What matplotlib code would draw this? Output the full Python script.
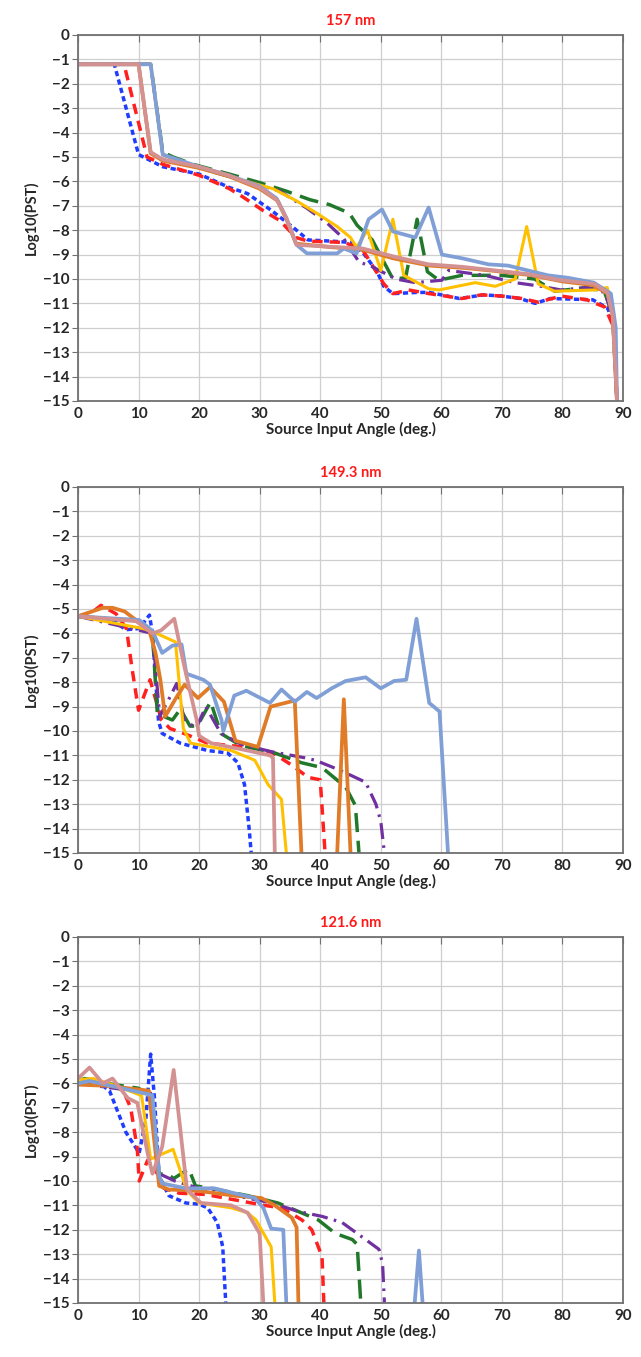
import numpy as np
import matplotlib
matplotlib.use("Agg")
import matplotlib.pyplot as plt

plt.rcParams['font.family'] = ['Lato', 'DejaVu Sans']

nan = np.nan

# ---- 157 nm : (angle, log10 PST) ----
blue_157 = [(0, -1.2), (6, -1.2), (10, -4.9), (14, -5.4), (20, -5.7), (25, -6.25), (28, -6.5),
            (32, -7.2), (35.6, -7.9), (38, -8.4), (42, -8.45), (45, -8.5), (47, -8.9), (49.4, -9.7),
            (50.5, -10.3), (52, -10.6), (56, -10.55), (58, -10.55), (63, -10.8), (67, -10.65),
            (70, -10.7), (73, -10.8), (75.5, -11.0), (78, -10.8), (85, -10.85), (87.5, -11.2),
            (88.5, -12), (89, -15)]
red_157 = [(0, -1.2), (7.6, -1.2), (11.4, -5.0), (14, -5.3), (20, -5.75), (25, -6.3), (27, -6.6),
           (30.6, -7.2), (33.3, -7.6), (36, -8.3), (38, -8.45), (44, -8.5), (47, -8.8), (49, -9.6),
           (50.5, -10.2), (52, -10.6), (54.6, -10.45), (58, -10.6), (63.4, -10.8), (66.6, -10.65),
           (70, -10.7), (73.3, -10.8), (76, -10.95), (79.8, -10.7), (84, -10.85), (87, -11.15),
           (88.5, -12), (89, -15)]
green_157 = [(0, -1.2), (12, -1.2), (14, -4.8), (15.7, -5.0), (19, -5.3), (25, -5.7), (30, -6.05),
             (34.4, -6.4), (38.3, -6.75), (41.5, -6.95), (44.8, -7.3), (46.1, -7.8), (48.6, -8.4),
             (52, -10.0), (54.1, -9.95), (56, -7.55), (57.7, -9.7), (59.6, -10.05), (63.4, -9.85),
             (70, -9.85), (75.4, -10.0), (78.7, -10.5), (84, -10.35), (86.9, -10.5), (88.3, -11.5),
             (89, -15)]
purple_157 = [(0, -1.2), (12, -1.2), (14, -4.9), (20, -5.45), (25, -5.8), (30, -6.15), (33.3, -6.4),
              (37.8, -7.1), (41.1, -7.7), (43.9, -8.35), (46.4, -9.3), (48.6, -9.5), (52.5, -10.0),
              (55.7, -10.15), (60.1, -10.05), (61.2, -9.65), (67.2, -9.85), (72.2, -10.15),
              (76.5, -10.3), (79.8, -10.45), (84, -10.35), (87, -10.55), (88.3, -11.5), (89, -15)]
yellow_157 = [(0, -1.2), (12, -1.2), (14, -4.9), (20, -5.45), (25, -5.8), (30, -6.15), (32.2, -6.3),
              (36.1, -6.8), (39.4, -7.3), (42.8, -7.85), (45, -8.3), (46, -8.7), (47.8, -8.0),
              (50, -9.65), (52, -7.55), (53.8, -9.85), (57.9, -10.4), (59.6, -10.45), (65.6, -10.15),
              (68.9, -10.3), (72.2, -10.0), (74.1, -7.85), (76, -10.2), (78.7, -10.5), (85.2, -10.45),
              (87.4, -10.35), (88.5, -11.5), (89, -15)]
orange_157 = [(0, -1.2), (10, -1.2), (12, -4.85), (14, -5.15), (20, -5.45), (25, -5.8), (30, -6.3),
              (33, -6.8), (34.5, -7.6), (36, -8.55), (42, -8.7), (47, -8.8), (52, -9.15), (58, -9.45),
              (64, -9.55), (70, -9.7), (75, -9.85), (80, -10.1), (85, -10.25), (87.5, -10.6),
              (88.3, -11.5), (89, -15)]
ltblue_157 = [(0, -1.2), (12, -1.2), (14, -4.9), (20, -5.4), (25, -5.76), (30, -6.2), (32.8, -6.7),
              (34.4, -7.5), (36.1, -8.6), (37.8, -8.95), (42.8, -8.95), (43.9, -8.75), (46, -8.95),
              (48, -7.55), (50.2, -7.15), (52, -8.05), (55.7, -8.3), (57.9, -7.07), (60.1, -9.0),
              (63.4, -9.15), (67.8, -9.4), (71, -9.45), (74.3, -9.65), (77.6, -9.85), (80.9, -9.95),
              (85.2, -10.15), (88, -10.6), (88.8, -12), (89, -15)]
pink_157 = [(0, -1.2), (10, -1.2), (12, -4.8), (14, -5.1), (20, -5.4), (25, -5.76), (30, -6.25),
            (32.8, -6.75), (34.4, -7.5), (36.1, -8.6), (41.7, -8.68), (47, -8.75), (52.5, -9.1),
            (57.9, -9.4), (63.4, -9.5), (68.9, -9.65), (74.3, -9.8), (79.8, -10.05), (85.2, -10.2),
            (87.4, -10.55), (88.3, -11.5), (89, -15)]

# ---- 149.3 nm ----
blue_149 = [(0, -5.3), (5.7, -5.45), (7.9, -5.85), (10.1, -5.8), (11.8, -5.25), (12.3, -6.0),
            (13.3, -9.6), (13.9, -10.1), (16.9, -10.5), (21.4, -10.8), (24.7, -10.9), (26.4, -11.3),
            (27.5, -12.2), (28.3, -14.1), (28.6, -15)]
red_149 = [(0, -5.3), (2.5, -5.1), (3.8, -4.85), (6.3, -5.2), (8, -5.8), (8.9, -7.4), (10, -9.15),
           (11.9, -7.9), (13.8, -9.55), (15.2, -9.9), (17.5, -10.1), (21.4, -10.5), (25.3, -10.6),
           (29.7, -10.7), (32.2, -10.9), (35.3, -11.4), (38, -11.9), (40, -12.0), (40.8, -15)]
green_149 = [(0, -5.3), (10, -5.5), (12.3, -6.0), (13.1, -9.3), (15.6, -9.55), (16.9, -9.1),
             (18.5, -9.8), (19.7, -9.8), (21.9, -8.8), (23.6, -10.1), (26.9, -10.6), (32.5, -10.9),
             (36.9, -11.3), (40.3, -11.5), (44.2, -12.3), (45.8, -13.05), (46.4, -15)]
purple_149 = [(0, -5.3), (12.3, -6.0), (13.5, -9.4), (15.2, -8.6), (16.3, -8.05), (17.5, -9.5),
              (19.5, -9.9), (21.1, -9.0), (23.6, -10.1), (27, -10.55), (32, -10.85), (37.5, -11.1),
              (39.2, -11.2), (43.2, -11.6), (47.5, -12.1), (49.2, -13.0), (50, -13.7), (50.6, -15)]
yellow_149 = [(0, -5.3), (10.7, -5.8), (12.5, -5.95), (16.1, -6.35), (17.4, -9.9), (18.6, -10.5),
              (25.3, -10.8), (29.2, -11.2), (31.4, -12.2), (33.6, -12.8), (34.4, -15)]
orange_149 = [(0, -5.3), (4.1, -4.95), (5.7, -4.95), (7.7, -5.1), (10.1, -5.55), (11.8, -5.9),
              (12.8, -6.8), (13.6, -7.9), (14.4, -9.4), (16.3, -8.6), (17.6, -8.1), (19.8, -8.65),
              (21.8, -8.2), (24.1, -8.8), (26, -10.4), (29.7, -10.65), (31.8, -9.0), (35.8, -8.75),
              (36.9, -15), (nan, nan), (42.8, -15), (43.9, -8.7), (45, -15)]
ltblue_149 = [(0, -5.3), (10.1, -5.45), (12.3, -5.9), (13.9, -6.8), (15.6, -6.5), (17.1, -6.45),
              (17.9, -7.65), (20.7, -7.9), (21.8, -8.1), (23.7, -9.55), (24, -10.0), (25.8, -8.55),
              (27.8, -8.35), (31.7, -8.85), (33.6, -8.3), (35.8, -8.8), (37.8, -8.4), (39.4, -8.65),
              (41.9, -8.25), (44.2, -7.95), (47.5, -7.8), (50, -8.25), (52.2, -7.95), (54.2, -7.9),
              (55.9, -5.4), (58, -8.85), (59.7, -9.2), (61.1, -15)]
pink_149 = [(0, -5.3), (9.6, -5.5), (12.3, -6.0), (13.7, -5.88), (15.9, -5.4), (17.6, -7.4),
            (19.6, -9.55), (20, -10.2), (22, -10.5), (28, -10.8), (31.7, -11.0), (32.2, -11.1),
            (32.5, -15)]

# ---- 121.6 nm ----
blue_121 = [(0, -6.0), (3, -5.9), (5.2, -6.3), (7.9, -8.0), (10.1, -8.85), (11.2, -7.5), (12, -4.8),
            (12.6, -6.5), (13.4, -9.8), (15, -10.6), (17.8, -10.9), (20, -10.95), (21.4, -11.1),
            (23, -11.7), (23.9, -12.7), (24.4, -15)]
red_121 = [(0, -6.0), (4, -6.0), (7.4, -6.25), (8.7, -7.0), (9.8, -8.7), (10.1, -10.0), (11.5, -9.15),
           (13.4, -9.8), (14.2, -10.3), (16.7, -10.5), (21, -10.55), (24.3, -10.7), (30.8, -11.0),
           (33.6, -11.1), (37, -11.6), (38.6, -12.0), (40.3, -13.1), (40.6, -15)]
green_121 = [(0, -5.9), (1.1, -5.8), (6, -6.05), (10, -6.2), (12, -6.5), (13.4, -9.7), (15, -9.75),
             (15.8, -9.9), (18.3, -9.5), (19.4, -10.2), (22, -10.3), (28, -10.6), (33, -10.9),
             (36.4, -11.25), (39.7, -11.6), (42.5, -12.15), (45.3, -12.4), (46.1, -12.6), (46.7, -15)]
purple_121 = [(0, -6.0), (12, -6.4), (13.4, -9.7), (16, -10.0), (20, -10.3), (26, -10.6), (32, -10.9),
              (36.4, -11.25), (40.3, -11.45), (43.6, -11.7), (47.5, -12.4), (49.7, -12.8),
              (50.3, -13.4), (50.6, -15)]
yellow_121 = [(0, -5.85), (2.5, -5.8), (6.3, -6.1), (10.5, -6.5), (12, -9.1), (15.7, -8.7),
              (18, -10.4), (20, -10.9), (25.3, -11.1), (28, -11.3), (29.4, -11.6), (31.9, -12.7),
              (32.5, -15)]
orange_121 = [(0, -6.05), (5, -6.1), (11.7, -6.3), (13.4, -10.2), (15, -10.35), (19.7, -10.4),
              (25.8, -10.6), (30.3, -10.7), (32.5, -11.0), (35.3, -11.5), (36.1, -11.9), (36.4, -15)]
ltblue_121 = [(0, -6.0), (1.9, -5.9), (11.7, -6.45), (12.3, -6.5), (13.4, -9.8), (13.9, -10.1),
              (17.8, -10.3), (22.5, -10.3), (25.8, -10.5), (29.2, -10.7), (30.6, -11.1),
              (31.9, -11.95), (33.9, -12.0), (34.4, -15), (nan, nan), (55.6, -15), (56.3, -12.85),
              (56.9, -15)]
pink_121 = [(0, -5.8), (1.9, -5.35), (4.1, -6.0), (5.7, -5.8), (8.2, -6.6), (9.8, -6.8), (11.7, -9.1),
            (12.3, -9.7), (13.9, -8.6), (15.8, -5.45), (18, -10.35), (20.3, -10.9), (25.3, -11.0),
            (28, -11.3), (30, -12.15), (30.6, -15)]

titles = ['157 nm', '149.3 nm', '121.6 nm']
panels = [
    [blue_157, red_157, green_157, purple_157, yellow_157, orange_157, ltblue_157, pink_157],
    [blue_149, red_149, green_149, purple_149, yellow_149, orange_149, ltblue_149, pink_149],
    [blue_121, red_121, green_121, purple_121, yellow_121, orange_121, ltblue_121, pink_121],
]

# line styles, same order as the series in each panel
styles = [
    dict(color='#1f3cff', lw=2.5, dashes=(1.5, 1.0)),
    dict(color='#ff2020', lw=2.5, dashes=(3.0, 2.0)),
    dict(color='#22782a', lw=2.5, dashes=(5.5, 2.5)),
    dict(color='#7030a0', lw=2.3, dashes=(5.0, 2.0, 0.8, 2.0)),
    dict(color='#ffc000', lw=2.2),
    dict(color='#e07b28', lw=2.7),
    dict(color='#809fd6', lw=2.7),
    dict(color='#d39191', lw=2.7),
]

fig = plt.figure(figsize=(6.41, 13.57), dpi=100)
ax_left, ax_w, ax_h = 78 / 641, 545 / 641, 366 / 1357
tops = [35, 487, 937]

axis_col = '#707070'
for top, title, series in zip(tops, titles, panels):
    ax = fig.add_axes([ax_left, 1 - (top + 366) / 1357, ax_w, ax_h])
    for pts, st in zip(series, styles):
        x = [p[0] for p in pts]
        y = [p[1] for p in pts]
        ax.plot(x, y, **st)

    ax.set_xlim(0, 90)
    ax.set_ylim(-15, 0)
    ax.set_xticks(range(0, 91, 10))
    ax.set_yticks(range(-15, 1))
    ax.grid(True, color='#cfcfcf', lw=0.9)
    ax.set_axisbelow(True)
    for sp in ax.spines.values():
        sp.set_color(axis_col)
        sp.set_linewidth(1.3)
    ax.tick_params(axis='x', bottom=False, top=True, labelbottom=True, labeltop=False,
                   direction='in', length=5, color=axis_col, pad=4)
    ax.tick_params(axis='y', direction='out', length=4, color=axis_col, pad=2)
    for lab in ax.get_xticklabels() + ax.get_yticklabels():
        lab.set_fontsize(11)
        lab.set_fontweight('bold')
        lab.set_color('#262626')
    ax.set_title(title, color='#ff1a1a', fontsize=10.5, fontweight='bold', pad=7)
    ax.set_xlabel('Source Input Angle (deg.)', fontsize=11, fontweight='bold',
                  color='#262626', labelpad=1)
    ax.set_ylabel('Log10(PST)', fontsize=10.5, fontweight='bold', color='#262626', labelpad=3)

fig.savefig('out.png', dpi=100)
